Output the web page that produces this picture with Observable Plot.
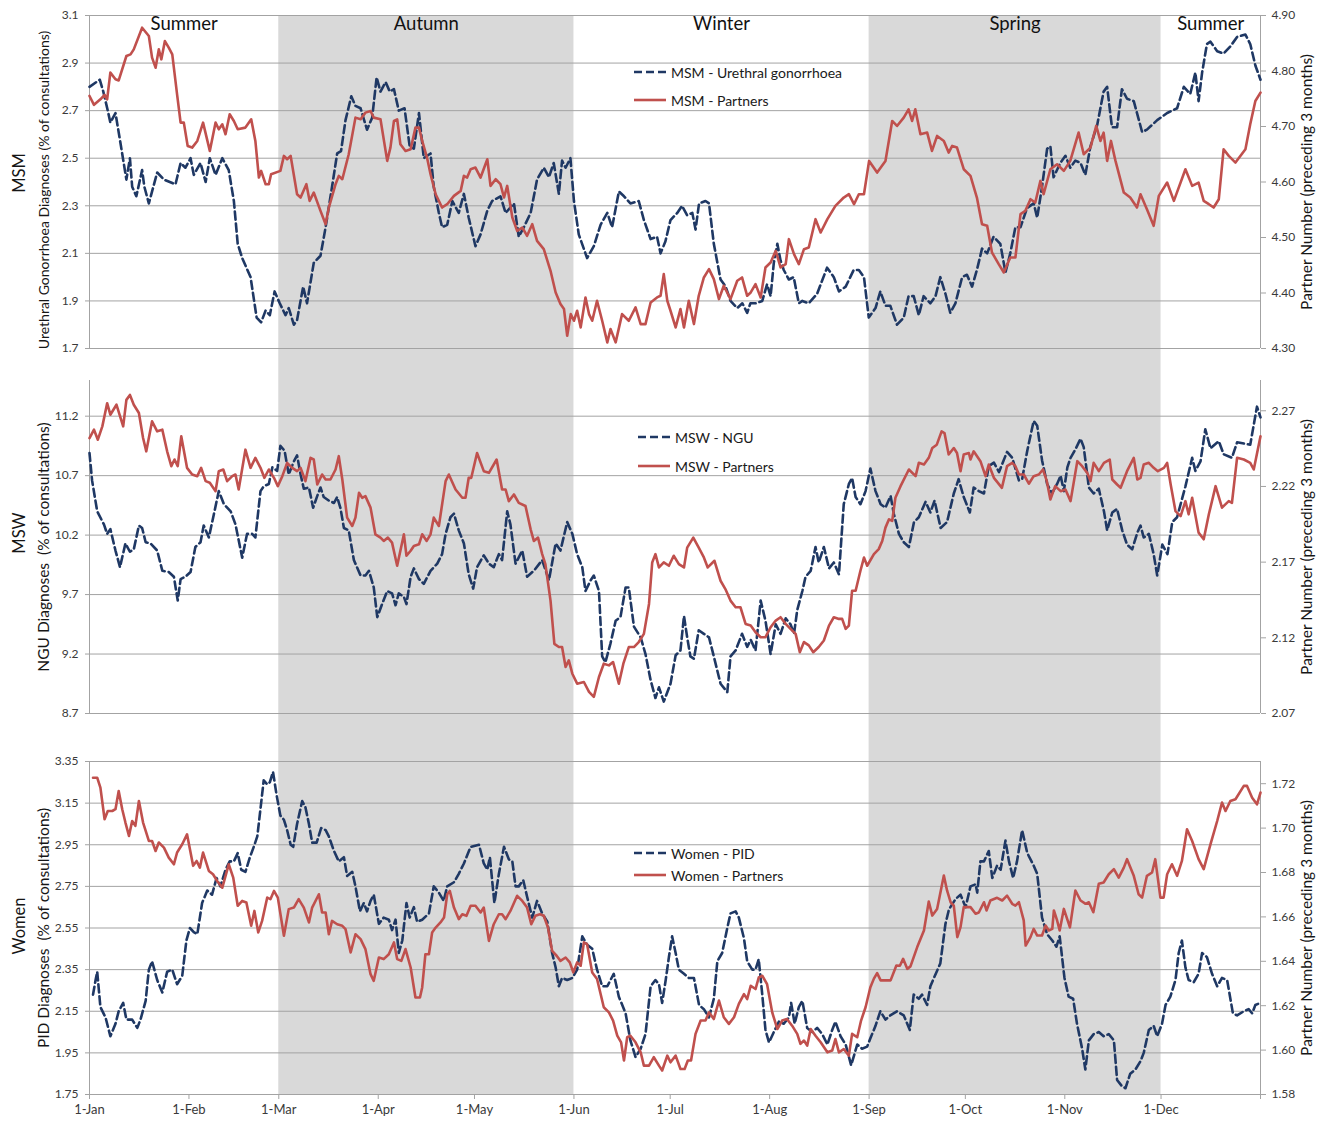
<!DOCTYPE html>
<html><head><meta charset="utf-8">
<script src="https://cdn.jsdelivr.net/npm/d3@7"></script>
<script src="https://cdn.jsdelivr.net/npm/@observablehq/plot@0.6"></script>
<style>
html,body{margin:0;padding:0;background:#fff;overflow:hidden;}
#chart{position:relative;width:1325px;height:1123px;font-family:Lato,sans-serif;}
#chart > svg{position:absolute;left:0;}
.lg{position:absolute;display:flex;align-items:center;font:14px Lato,sans-serif;color:#1a1a1a;white-space:nowrap;}
.lg svg{display:block;margin-right:4px;}
</style></head><body><div id="chart"></div><script>
// ---- data (day of year offset from 1-Jan, value) ----
const monthLabels = ["1-Jan","1-Feb","1-Mar","1-Apr","1-May","1-Jun","1-Jul","1-Aug","1-Sep","1-Oct","1-Nov","1-Dec"];
const seasonNames = ["Summer","Autumn","Winter","Spring","Summer"];
const seasonStart = [0,59,151,243,334];
const seasonEnd = [59,151,243,334,365];
const shadeStart = [59,243];
const shadeEnd = [151,334];

const msmTicksL = [1.7,1.9,2.1,2.3,2.5,2.7,2.9,3.1];
const msmTicksR = [4.3,4.4,4.5,4.6,4.7,4.8,4.9];
const mswTicksL = [8.7,9.2,9.7,10.2,10.7,11.2];
const mswTicksR = [2.07,2.12,2.17,2.22,2.27];
const womTicksL = [1.75,1.95,2.15,2.35,2.55,2.75,2.95,3.15,3.35];
const womTicksR = [1.58,1.60,1.62,1.64,1.66,1.68,1.70,1.72];

const msmGono = [[0,2.80],[3.2,2.83],[4.3,2.78],[5.7,2.70],[6.5,2.65],[8.1,2.69],[9.7,2.56],[11.5,2.41],[12.6,2.50],[13.3,2.38],[14.6,2.34],[16.4,2.45],[17.1,2.38],[18.5,2.31],[21.1,2.44],[23.2,2.41],[26.8,2.39],[28.4,2.48],[29.9,2.46],[31.5,2.50],[32.5,2.43],[34.6,2.48],[36.2,2.40],[37.5,2.50],[39.3,2.43],[41.4,2.50],[43.4,2.45],[45,2.32],[46.2,2.14],[47.6,2.08],[50.2,2.00],[52.1,1.83],[53.5,1.81],[54.9,1.86],[56.2,1.84],[57.7,1.94],[59.3,1.89],[61.1,1.84],[62.1,1.87],[63.7,1.80],[64.7,1.82],[66.6,1.96],[67.8,1.89],[69.9,2.06],[72,2.09],[73.6,2.21],[75.6,2.38],[77.2,2.52],[78.4,2.53],[79.8,2.66],[81.6,2.76],[82.9,2.72],[84.5,2.71],[86.5,2.62],[88.1,2.67],[89.5,2.84],[90.7,2.78],[92.3,2.82],[93.6,2.78],[94.9,2.79],[96.4,2.70],[98.2,2.71],[99.8,2.55],[101.1,2.54],[102.7,2.69],[104.2,2.50],[106.3,2.52],[107.3,2.38],[108.9,2.27],[109.9,2.21],[111.5,2.22],[113.1,2.32],[115.1,2.27],[116.7,2.35],[118.2,2.25],[120.3,2.13],[121.9,2.18],[124,2.28],[125.5,2.32],[128.1,2.34],[129.7,2.27],[132.3,2.31],[133.8,2.17],[135.4,2.21],[137.5,2.27],[139.5,2.41],[141.6,2.46],[143.2,2.42],[144.7,2.48],[146.3,2.35],[147.3,2.49],[148.4,2.46],[149.9,2.50],[151,2.32],[152.5,2.18],[155.1,2.08],[157.2,2.13],[159.3,2.22],[161.4,2.27],[162.9,2.21],[165,2.36],[166.6,2.34],[168.6,2.31],[171.2,2.32],[172.8,2.24],[174.9,2.16],[176.9,2.17],[178,2.10],[179.5,2.15],[181.1,2.24],[183.2,2.27],[184.7,2.30],[186.3,2.26],[187.9,2.27],[188.9,2.20],[190,2.31],[192,2.32],[193.1,2.31],[194.6,2.14],[196.7,1.99],[198.3,1.96],[199.8,1.90],[201.9,1.87],[203.5,1.89],[205,1.85],[206,1.89],[207.6,1.89],[209.7,1.90],[211.2,1.97],[212.3,1.92],[213.3,2.06],[214.4,2.14],[215.4,2.07],[216.4,2.03],[218,1.99],[219.5,2.00],[221.1,1.89],[222.2,1.90],[224.2,1.89],[226.8,1.93],[229.9,2.04],[232,2.00],[233.6,1.94],[235.7,1.96],[238.2,2.03],[239.8,2.03],[241.4,2.00],[242.9,1.83],[245,1.87],[246.5,1.94],[248.1,1.88],[249.6,1.88],[251.7,1.80],[253.8,1.83],[255.3,1.92],[256.9,1.92],[258.5,1.84],[260,1.92],[262.1,1.89],[263.7,1.92],[265.2,2.00],[266.8,1.93],[268.3,1.85],[269.9,1.89],[272,2.00],[273.5,2.01],[275.1,1.96],[276.6,2.03],[278.2,2.12],[279.8,2.10],[281.8,2.17],[283.9,2.14],[285.5,2.02],[287,2.10],[288.6,2.21],[290.2,2.21],[292.2,2.29],[294.3,2.31],[295.4,2.25],[296.9,2.38],[298.5,2.54],[299.5,2.55],[300.5,2.42],[302.6,2.48],[304.2,2.51],[305.7,2.46],[307.3,2.49],[308.9,2.48],[310.4,2.43],[312,2.55],[314.1,2.64],[316.1,2.78],[317.2,2.80],[318.7,2.63],[320.3,2.63],[321.8,2.79],[323.4,2.75],[325.5,2.74],[328.1,2.61],[329.6,2.62],[332.8,2.66],[335.9,2.69],[339,2.71],[341.1,2.80],[343.1,2.77],[344.7,2.86],[345.7,2.74],[346.8,2.86],[348.3,2.98],[349.4,2.99],[351.5,2.95],[353.5,2.94],[355.6,2.97],[357.7,3.01],[360.3,3.02],[361.8,2.98],[363.4,2.89],[365,2.83]];

const msmPartners = [[0,4.755],[1.4,4.739],[3.4,4.749],[4.7,4.757],[5.5,4.749],[6.5,4.797],[8.1,4.785],[9.1,4.783],[11.5,4.827],[12.8,4.83],[13.8,4.839],[16.4,4.878],[18.5,4.863],[19.5,4.824],[20.6,4.806],[21.6,4.839],[22.4,4.821],[23.5,4.854],[24.7,4.842],[25.8,4.83],[27.3,4.758],[28.4,4.707],[29.4,4.707],[30.6,4.665],[32,4.662],[33.6,4.674],[35.4,4.707],[37.5,4.656],[39.3,4.707],[40.3,4.695],[41.4,4.704],[42.4,4.686],[43.7,4.722],[45,4.71],[46.2,4.695],[48.6,4.698],[50.4,4.713],[51.7,4.674],[52.8,4.608],[53.5,4.62],[54.9,4.596],[55.9,4.596],[56.6,4.614],[59.5,4.62],[60.6,4.647],[61.6,4.641],[62.7,4.647],[64.7,4.578],[65.8,4.572],[67.6,4.596],[68.6,4.566],[69.9,4.581],[72,4.548],[73.6,4.524],[74.6,4.554],[76.7,4.596],[77.7,4.611],[78.8,4.605],[80.8,4.65],[82.9,4.716],[84.5,4.713],[86,4.725],[87.6,4.728],[88.6,4.716],[90.7,4.713],[92.8,4.638],[93.8,4.662],[94.9,4.71],[95.9,4.713],[96.9,4.668],[98.5,4.656],[100.1,4.659],[101.6,4.698],[102.7,4.698],[103.7,4.674],[105.2,4.644],[106.3,4.614],[107.9,4.578],[109.9,4.554],[111.5,4.56],[113.6,4.575],[115.7,4.584],[116.7,4.611],[117.7,4.608],[118.8,4.623],[120.3,4.626],[121.9,4.608],[124,4.641],[125,4.593],[126.6,4.605],[128.1,4.596],[129.2,4.572],[130.2,4.593],[131.8,4.536],[133.3,4.512],[134.9,4.518],[136.4,4.503],[138,4.524],[139.5,4.494],[141.6,4.479],[143.7,4.44],[145.3,4.401],[146.8,4.38],[147.9,4.371],[148.9,4.323],[150,4.362],[151,4.35],[152,4.368],[153.1,4.338],[154.6,4.392],[155.7,4.362],[156.7,4.35],[158.2,4.386],[159.8,4.35],[161.4,4.311],[162.4,4.335],[164,4.311],[166,4.362],[168.1,4.35],[170.2,4.374],[171.8,4.344],[173.3,4.344],[174.9,4.383],[176.9,4.392],[178,4.395],[179,4.434],[180.1,4.386],[181.1,4.368],[182.7,4.338],[184.2,4.371],[185.3,4.338],[186.8,4.386],[188.4,4.344],[189.9,4.395],[191.5,4.428],[193.1,4.443],[194.6,4.425],[196.2,4.389],[197.7,4.413],[199.8,4.389],[201.9,4.422],[203.4,4.428],[205,4.395],[206.1,4.401],[207.6,4.416],[209.2,4.392],[210.7,4.446],[212.3,4.455],[213.9,4.476],[215.4,4.446],[217,4.452],[218,4.497],[219.6,4.47],[221.1,4.452],[222.7,4.479],[224.2,4.482],[226.3,4.533],[227.9,4.509],[230,4.533],[232.5,4.557],[235.1,4.572],[236.7,4.578],[238.3,4.56],[239.8,4.578],[241.4,4.578],[243,4.638],[245.5,4.617],[248.1,4.638],[250.2,4.71],[251.7,4.701],[253.8,4.716],[255.3,4.731],[256.4,4.71],[257.4,4.731],[259,4.686],[261.1,4.689],[262.6,4.656],[264.2,4.683],[266.3,4.674],[267.8,4.653],[268.9,4.665],[270.4,4.662],[272.5,4.623],[274.6,4.611],[276.6,4.572],[278.2,4.524],[279.8,4.521],[281.3,4.473],[283.4,4.452],[285,4.437],[287,4.464],[288.6,4.464],[290.2,4.542],[291.7,4.548],[293.3,4.569],[294.8,4.563],[296.4,4.602],[297.4,4.578],[299.5,4.623],[301.6,4.632],[303.7,4.62],[305.7,4.638],[308.3,4.689],[309.9,4.65],[312,4.662],[313.8,4.701],[315.1,4.674],[316.1,4.689],[317.2,4.638],[318.4,4.674],[319.8,4.638],[322.4,4.581],[324.4,4.572],[326.5,4.554],[327.6,4.578],[329.6,4.551],[331.7,4.521],[333.3,4.575],[335.9,4.599],[338,4.566],[341.6,4.623],[343.7,4.593],[345.7,4.599],[347.3,4.566],[348.9,4.56],[350.4,4.554],[352,4.569],[353.5,4.659],[355.1,4.647],[357.2,4.635],[360.3,4.659],[361.8,4.704],[363.4,4.746],[365,4.761]];

const mswNgu = [[0,10.89],[0.8,10.66],[2.4,10.40],[4.5,10.29],[5.5,10.21],[6.5,10.25],[8.1,10.07],[9.5,9.93],[11.2,10.13],[12.6,10.06],[13.8,10.08],[15.4,10.28],[16.4,10.26],[17.5,10.14],[19,10.13],[21.1,10.07],[22.7,9.90],[24.7,9.89],[26.3,9.85],[27.5,9.65],[28.4,9.83],[29.9,9.85],[31.5,9.89],[33,10.10],[34.6,10.14],[35.6,10.28],[37.2,10.18],[38.8,10.38],[40.3,10.57],[41.9,10.46],[44,10.40],[45.5,10.29],[47.6,10.01],[49.1,10.21],[50.7,10.21],[51.7,10.18],[53.3,10.57],[54.3,10.61],[55.9,10.63],[57,10.77],[58.5,10.74],[59.5,10.95],[60.8,10.91],[62.1,10.71],[63.7,10.82],[64.7,10.87],[65.8,10.71],[66.8,10.59],[68.4,10.60],[69.7,10.43],[71,10.53],[72,10.60],[73,10.52],[74.6,10.49],[76.2,10.47],[77.2,10.52],[78.2,10.43],[79.3,10.26],[80.8,10.24],[82.4,9.99],[84.5,9.86],[86,9.86],[87.1,9.90],[88.6,9.76],[89.7,9.51],[91.2,9.62],[92.8,9.73],[94.3,9.71],[95.4,9.61],[96.4,9.71],[98,9.68],[98.8,9.62],[100.1,9.85],[101.1,9.92],[102.7,9.83],[104.2,9.79],[106.3,9.90],[108.4,9.96],[109.9,10.04],[111,10.21],[112.5,10.35],[113.6,10.38],[115.1,10.24],[116.7,10.13],[118.2,9.87],[119.6,9.75],[120.8,9.93],[122.9,10.03],[124.5,9.96],[126,9.93],[127.6,10.04],[128.6,9.99],[130.2,10.40],[131.2,10.29],[132.8,9.96],[134.9,10.07],[136.4,9.85],[138.5,9.90],[141.1,9.99],[143.2,9.82],[145.3,10.13],[146.8,10.07],[148.9,10.31],[150.5,10.21],[152,10.04],[153.6,9.93],[154.6,9.73],[156.2,9.82],[157.2,9.86],[158.8,9.73],[159.8,9.18],[160.8,9.13],[162.4,9.29],[164,9.48],[165.5,9.51],[167.1,9.76],[168.1,9.76],[169.7,9.43],[171.8,9.34],[173.3,9.20],[174.9,8.98],[176.4,8.83],[177.5,8.92],[179,8.80],[181.1,8.95],[182.7,9.19],[184.2,9.23],[185.3,9.52],[186.3,9.34],[187.3,9.18],[188.4,9.16],[189.9,9.40],[191.5,9.37],[193.1,9.34],[194.6,9.18],[196.7,8.95],[198.8,8.88],[199.8,9.18],[201.4,9.23],[203.4,9.37],[205,9.26],[206.1,9.32],[207.6,9.23],[209.2,9.65],[210.7,9.48],[212.3,9.20],[213.9,9.45],[215.4,9.37],[217,9.50],[218.5,9.45],[219.6,9.37],[220.6,9.57],[222.2,9.73],[223.2,9.85],[224.8,9.90],[226.3,10.10],[227.3,9.97],[228.9,10.10],[230.5,9.92],[232,9.97],[233.6,9.87],[235.1,10.46],[236.7,10.63],[237.7,10.68],[238.8,10.52],[240.3,10.46],[241.9,10.57],[243.4,10.76],[245,10.57],[246.6,10.46],[248.1,10.43],[249.7,10.53],[250.7,10.38],[252.3,10.21],[253.8,10.14],[255.4,10.10],[257,10.31],[258.5,10.35],[260.6,10.48],[262.1,10.39],[263.4,10.49],[265.3,10.26],[267.3,10.31],[269.4,10.55],[270.9,10.67],[272.5,10.52],[274.4,10.39],[275.6,10.60],[277.2,10.57],[278.8,10.55],[280.3,10.78],[281.9,10.81],[283.5,10.73],[286,10.90],[287.6,10.85],[289.7,10.66],[290.7,10.67],[292.3,10.91],[294.3,11.16],[295.4,11.12],[296.9,10.83],[298.5,10.63],[300,10.55],[301.6,10.63],[302.7,10.70],[303.7,10.57],[304.8,10.77],[305.8,10.85],[307.3,10.92],[308.9,11.01],[309.9,10.94],[311.5,10.60],[313,10.55],[314.6,10.59],[316.2,10.40],[317.2,10.24],[318.8,10.39],[320.3,10.42],[321.9,10.24],[323.4,10.12],[325,10.08],[326.6,10.22],[327.6,10.28],[328.6,10.18],[330.2,10.21],[331.7,10.04],[332.8,9.86],[334.4,10.12],[336,10.04],[337.5,10.31],[339,10.35],[341.6,10.61],[343.7,10.85],[344.7,10.74],[346.3,10.82],[347.8,11.09],[349.4,10.93],[352,10.99],[353.5,10.88],[356.1,10.85],[357.7,10.98],[361.8,10.96],[363.9,11.28],[365,11.19]];

const mswPartners = [[0,2.252],[1.4,2.2575],[2.6,2.2509],[4,2.2597],[5.5,2.275],[6.5,2.2674],[8.4,2.274],[10.5,2.2597],[11.5,2.2772],[12.6,2.2805],[13.8,2.274],[15.4,2.2685],[16.7,2.252],[17.7,2.2432],[19.5,2.263],[21.1,2.2564],[22.7,2.2575],[24.2,2.2432],[25.5,2.2334],[26.5,2.2378],[27.5,2.2334],[28.6,2.2531],[30.4,2.2323],[32,2.2279],[33.6,2.2268],[34.8,2.2323],[36.2,2.2235],[37.5,2.2224],[39.3,2.2169],[40.3,2.2301],[41.7,2.2312],[42.9,2.2235],[44.5,2.2268],[45.5,2.2279],[46.5,2.218],[48.6,2.2443],[50.2,2.2323],[51.7,2.2389],[53.3,2.2323],[54.5,2.2257],[55.9,2.2312],[57.5,2.2257],[58.7,2.2202],[60.1,2.2268],[61.6,2.2356],[63.2,2.2323],[64.7,2.2301],[65.8,2.2323],[67.3,2.2235],[68.9,2.2389],[69.9,2.2378],[71,2.2213],[72.5,2.2279],[73.6,2.2246],[75.1,2.2246],[76.7,2.2312],[77.7,2.24],[78.8,2.2246],[80.3,2.1994],[81.9,2.1939],[82.9,2.1994],[84,2.2158],[85,2.2125],[86,2.2136],[87.6,2.206],[89.1,2.1884],[90.7,2.1862],[91.7,2.184],[93,2.1862],[94.3,2.1829],[95.9,2.1676],[96.9,2.1775],[98,2.1884],[98.8,2.1742],[100.1,2.1775],[101.1,2.1807],[102.7,2.1818],[103.7,2.1884],[105.1,2.184],[106.3,2.1884],[107.3,2.1994],[108.9,2.1939],[111,2.2235],[112,2.2279],[114.1,2.218],[116.2,2.2125],[117.2,2.2125],[118.2,2.2257],[119,2.2257],[120.8,2.2421],[122.9,2.2301],[124.5,2.229],[126.9,2.2378],[128.6,2.218],[129.7,2.218],[130.7,2.2103],[132.3,2.2147],[133.8,2.2092],[135.9,2.2071],[137.5,2.1917],[138.5,2.184],[139.8,2.1862],[141.1,2.1753],[142.1,2.1687],[143.7,2.1446],[144.9,2.116],[146.3,2.1139],[147.3,2.1139],[148.4,2.1007],[149.4,2.1051],[150.5,2.0963],[152,2.0897],[154.1,2.0908],[155.7,2.0843],[157.2,2.081],[158.8,2.0941],[160.3,2.1029],[161.9,2.1018],[163.2,2.104],[165,2.0897],[166.4,2.1029],[168.1,2.1139],[169.7,2.1139],[171.2,2.1172],[172.8,2.1226],[174.4,2.1424],[175.4,2.1698],[176.4,2.1753],[177.5,2.1665],[179,2.1698],[180.6,2.1676],[182.1,2.1742],[183.7,2.1687],[185.3,2.1665],[186.3,2.1796],[188.2,2.1862],[189.9,2.1796],[191.5,2.1731],[192.7,2.1665],[194.8,2.1709],[196.7,2.1577],[198.2,2.1522],[199.8,2.1446],[201.4,2.1402],[202.9,2.1402],[204.5,2.1292],[206.1,2.1281],[207.6,2.1237],[209.2,2.1204],[210.7,2.1204],[212.3,2.127],[213.9,2.1314],[215.4,2.1336],[217,2.1292],[218.5,2.1259],[220.1,2.1226],[221.4,2.1105],[222.7,2.1172],[224.2,2.115],[225.6,2.1105],[227.3,2.1139],[228.9,2.1182],[230.5,2.1281],[232,2.1336],[233.6,2.1325],[234.6,2.1325],[235.7,2.1259],[236.7,2.1281],[237.7,2.1511],[238.8,2.1511],[240.3,2.1643],[241.4,2.173],[242.4,2.1676],[244.5,2.1753],[246,2.1786],[247.1,2.184],[248.1,2.1928],[249.2,2.1983],[250.2,2.1972],[251.2,2.2125],[252.8,2.2202],[255.4,2.2312],[257.5,2.2268],[258.5,2.2356],[260.1,2.2345],[261.6,2.2389],[262.7,2.2454],[264.1,2.2476],[265.6,2.2564],[266.5,2.2553],[267.8,2.2411],[269.4,2.2454],[270.4,2.2421],[271.5,2.2301],[272.5,2.2411],[274.1,2.2421],[274.6,2.2378],[275.6,2.2432],[277.7,2.2367],[279.3,2.2268],[280.3,2.2345],[281.9,2.2257],[284.4,2.2191],[286,2.2334],[287.6,2.2356],[288.6,2.2334],[289.7,2.2279],[291.2,2.2279],[292.8,2.2218],[294.3,2.2268],[295.9,2.2279],[297.2,2.2312],[298.4,2.2235],[299.5,2.2114],[301,2.2202],[302.7,2.2169],[304.2,2.218],[305.8,2.2103],[307.9,2.2367],[309.4,2.2334],[311,2.229],[312,2.2235],[313,2.2356],[314.6,2.2301],[316.2,2.2356],[318,2.2378],[318.8,2.2246],[320.3,2.2213],[321.4,2.2191],[323.4,2.2301],[325.5,2.2389],[326.6,2.2246],[327.6,2.2257],[328.6,2.2345],[330.2,2.2356],[331.7,2.2323],[333,2.2301],[334.9,2.2323],[335.9,2.2356],[337,2.2213],[338.5,2.2037],[340.1,2.2004],[341.6,2.2103],[342.6,2.2016],[343.7,2.2125],[345.7,2.1895],[347.3,2.1851],[348.9,2.2016],[351,2.2202],[353,2.206],[355.1,2.2103],[356.1,2.2092],[357.7,2.2389],[359.8,2.2378],[361.8,2.2356],[362.9,2.2312],[365,2.2531]];

const womenPid = [[1.1,2.23],[1.9,2.30],[2.4,2.34],[3.4,2.17],[5,2.12],[6.5,2.03],[8.1,2.09],[9.1,2.15],[10.5,2.19],[11.5,2.11],[13.3,2.11],[14.9,2.07],[15.9,2.11],[17.5,2.20],[18.5,2.35],[19.5,2.39],[21.1,2.30],[22.7,2.24],[24.2,2.34],[25.8,2.35],[27.3,2.28],[28.9,2.32],[30.2,2.49],[31.3,2.55],[32.5,2.53],[33.6,2.52],[35.1,2.67],[36.7,2.73],[38.2,2.71],[39.6,2.79],[40.8,2.75],[42.4,2.83],[43.7,2.87],[45,2.87],[46.2,2.91],[47.3,2.83],[48.6,2.82],[50,2.89],[51.2,2.94],[52.3,2.99],[53.5,3.15],[54.3,3.26],[55.4,3.24],[56.2,3.25],[57.2,3.30],[58.3,3.19],[59.5,3.09],[60.6,3.07],[61.6,3.02],[62.7,2.95],[63.5,2.94],[64.7,3.05],[66.3,3.16],[67.3,3.13],[68.4,3.05],[69.4,2.96],[70.8,2.96],[72.2,3.03],[73.6,3.02],[74.6,2.99],[76.2,2.92],[77.7,2.87],[79.3,2.89],[80.3,2.80],[81.9,2.82],[82.9,2.75],[84.3,2.63],[85.5,2.67],[86.5,2.63],[87.6,2.68],[88.6,2.71],[90.2,2.57],[91.7,2.60],[93.3,2.59],[94.3,2.54],[95.4,2.59],[96.4,2.43],[97.5,2.49],[98.8,2.67],[99.8,2.60],[101.1,2.65],[102.1,2.58],[103.7,2.59],[105.8,2.62],[107.3,2.75],[108.9,2.72],[110.4,2.68],[111.5,2.75],[113.6,2.77],[115.1,2.81],[116.7,2.86],[118.8,2.94],[121.4,2.95],[122.9,2.86],[124,2.83],[124.8,2.89],[126.2,2.67],[127.6,2.81],[129.2,2.94],[130.7,2.88],[131.8,2.87],[132.8,2.75],[133.8,2.75],[135.2,2.78],[136.4,2.70],[138,2.60],[139.5,2.68],[141.1,2.62],[142.7,2.58],[144.2,2.43],[145.3,2.36],[146.3,2.27],[147.3,2.31],[148.9,2.30],[150.5,2.31],[152,2.35],[153.6,2.51],[155.1,2.47],[156.7,2.45],[158.2,2.35],[159.8,2.27],[161.4,2.27],[163.4,2.33],[165,2.22],[167.1,2.14],[168.6,2.01],[170.2,1.93],[171.8,1.97],[173.3,2.04],[174.9,2.27],[176.4,2.30],[177.5,2.28],[178.5,2.19],[179.6,2.30],[180.6,2.41],[181.6,2.51],[182.7,2.43],[183.7,2.35],[185.3,2.33],[186.8,2.31],[188.4,2.31],[190,2.18],[191.5,2.16],[193.1,2.12],[194.6,2.21],[195.7,2.39],[197.2,2.43],[198.8,2.55],[199.8,2.62],[201.4,2.63],[202.4,2.60],[204,2.50],[205,2.39],[206.6,2.35],[207.6,2.35],[208.6,2.40],[209.7,2.23],[210.7,2.06],[211.8,2.00],[213.3,2.05],[214.9,2.10],[216.4,2.09],[218,2.12],[218.7,2.19],[219.8,2.09],[221.1,2.17],[222.2,2.20],[223.7,2.07],[225.3,2.05],[226.8,2.07],[228.4,2.04],[230,1.99],[231.5,2.06],[232.5,2.10],[234.1,2.03],[235.7,1.99],[237.4,1.89],[239.3,1.99],[240.8,1.97],[242.4,1.98],[243.4,2.02],[245,2.08],[246.5,2.15],[248.1,2.11],[249.6,2.13],[251.7,2.15],[253.8,2.13],[255.7,2.06],[256.9,2.23],[258.5,2.21],[259.5,2.23],[261.1,2.18],[262.1,2.27],[263.2,2.31],[265.2,2.38],[266.8,2.57],[267.9,2.64],[270,2.69],[271.5,2.71],[273.1,2.65],[274.6,2.75],[276.2,2.76],[276.7,2.72],[277.7,2.87],[278.8,2.87],[280.3,2.92],[281.4,2.79],[282.9,2.85],[284,2.83],[285.5,2.97],[286.6,2.87],[287.9,2.79],[289.1,2.87],[290.7,3.02],[292.3,2.91],[294.3,2.85],[295.4,2.81],[296.9,2.60],[298.5,2.52],[300.1,2.49],[301.4,2.46],[302.4,2.51],[303.9,2.31],[305.2,2.22],[306.6,2.21],[307.8,2.09],[309.4,1.97],[310.4,1.87],[311.5,2.01],[313,2.04],[314.6,2.05],[316.1,2.03],[317.7,2.04],[319.3,2.01],[320.3,1.82],[321.8,1.79],[322.9,1.78],[324.4,1.85],[326,1.87],[327.6,1.91],[328.6,1.95],[330.2,2.06],[331.7,2.08],[332.8,2.03],[334.3,2.09],[335.4,2.18],[336.9,2.22],[338.5,2.30],[339.5,2.43],[340.5,2.49],[341.6,2.36],[342.6,2.30],[344.2,2.29],[345.7,2.33],[346.8,2.43],[348.3,2.41],[349.9,2.33],[351.5,2.27],[353,2.31],[354.6,2.30],[356.4,2.14],[357.7,2.13],[359.8,2.15],[361.3,2.16],[362.4,2.14],[363.4,2.18],[365,2.19]];

const womenPartners = [[1.1,1.7227],[2.4,1.7227],[3.4,1.7182],[4.7,1.704],[5.7,1.7077],[7.1,1.7077],[8.1,1.7085],[9.1,1.7167],[10.2,1.7085],[11.2,1.7025],[12.3,1.6965],[13.3,1.7032],[14.3,1.701],[15.4,1.7122],[16.7,1.7025],[18.5,1.6942],[19.5,1.6942],[20.6,1.6897],[21.6,1.6935],[23.2,1.6912],[24.7,1.6867],[26.3,1.6837],[27.3,1.689],[28.9,1.6927],[30.4,1.6972],[32.3,1.683],[33.4,1.6852],[34.4,1.6822],[35.4,1.689],[37.2,1.6807],[38.5,1.6792],[39.8,1.6762],[41.4,1.6732],[43.4,1.6837],[44.8,1.6777],[46.2,1.665],[47.6,1.6672],[48.9,1.6665],[50.4,1.656],[51.4,1.6627],[52.6,1.653],[53.8,1.6582],[55.4,1.6687],[56.4,1.668],[57.5,1.6717],[58.7,1.6687],[60.6,1.6515],[62.1,1.6635],[63.7,1.6642],[65.2,1.668],[66.8,1.6642],[68.4,1.6575],[69.4,1.6642],[71.5,1.6702],[72.5,1.662],[73.6,1.662],[74.6,1.6522],[75.6,1.6582],[77.2,1.6567],[78.8,1.656],[79.8,1.6545],[81.4,1.644],[82.9,1.6522],[84.5,1.65],[86,1.6455],[87.6,1.6342],[88.6,1.6312],[90.2,1.6417],[91.7,1.641],[93.3,1.6432],[94.9,1.6485],[95.9,1.641],[97.2,1.6402],[98.5,1.6455],[100.1,1.6372],[101.6,1.6237],[103,1.6237],[103.7,1.6282],[104.7,1.6432],[105.8,1.6432],[106.8,1.653],[107.9,1.6552],[109.4,1.6575],[110.5,1.6597],[111.5,1.6702],[112.3,1.6717],[113.6,1.6642],[115.1,1.659],[116.2,1.6612],[117.5,1.6605],[118.8,1.665],[120.3,1.665],[121.9,1.662],[122.9,1.6642],[124.5,1.6492],[126,1.6567],[127.6,1.6612],[128.6,1.6612],[129.7,1.659],[131.2,1.6627],[133.3,1.6695],[134.9,1.6672],[136.4,1.6642],[137.7,1.6567],[139,1.6605],[140.4,1.6612],[141.6,1.6605],[142.9,1.6552],[144.2,1.6447],[145.6,1.6425],[146.8,1.6402],[148.4,1.6417],[149.7,1.6395],[150.8,1.635],[152,1.6395],[153.1,1.638],[154.1,1.6485],[155.1,1.6477],[156.7,1.635],[158.2,1.632],[160.3,1.6193],[161.9,1.617],[163.2,1.6133],[164.5,1.6065],[165.7,1.6035],[166.6,1.5953],[167.6,1.6058],[168.6,1.6065],[170.2,1.6035],[171.8,1.599],[172.8,1.593],[174.4,1.593],[175.9,1.5968],[177.5,1.593],[178.5,1.5908],[180.1,1.5975],[181.1,1.5945],[182.7,1.5975],[184.2,1.5915],[185.5,1.5915],[186.5,1.5953],[187.5,1.5953],[188.9,1.6073],[190.5,1.6133],[192,1.6133],[193.1,1.617],[194.6,1.614],[196.2,1.6223],[197.7,1.6148],[199.3,1.6118],[200.9,1.6148],[202.4,1.6208],[204,1.6252],[205,1.623],[206.1,1.629],[207.6,1.6275],[208.6,1.6327],[209.7,1.6335],[211.2,1.6297],[212.8,1.617],[214.4,1.6095],[215.9,1.6133],[217.4,1.614],[219,1.611],[220.6,1.6073],[221.6,1.6028],[222.7,1.6043],[223.7,1.602],[224.8,1.6095],[226.3,1.6065],[227.9,1.6035],[230,1.599],[231.5,1.5998],[232.5,1.605],[233.6,1.599],[235.1,1.6005],[236.7,1.5975],[237.7,1.6073],[239.3,1.6058],[240.5,1.6133],[241.9,1.6193],[243.4,1.6283],[244.5,1.6322],[245.5,1.6347],[246.6,1.6314],[249.7,1.6314],[251.5,1.6381],[252.6,1.638],[253.6,1.6411],[254.9,1.6366],[255.9,1.6377],[258,1.6464],[260.1,1.6539],[261.6,1.6669],[262.7,1.6606],[264.2,1.6636],[266.3,1.6786],[267.3,1.6719],[268.4,1.6666],[269.4,1.6651],[270.5,1.6509],[271.5,1.6554],[272.5,1.6644],[274.6,1.6644],[276.2,1.6614],[277.2,1.662],[278.8,1.6666],[279.6,1.6629],[280.8,1.6674],[282.9,1.6686],[284.5,1.6674],[286,1.6696],[287.6,1.6659],[288.6,1.6651],[289.7,1.6666],[291.2,1.6584],[291.8,1.6471],[293.3,1.6509],[294.3,1.6546],[295.4,1.6516],[296.9,1.6516],[298,1.6561],[299,1.6539],[300.1,1.6546],[300.6,1.6629],[301.6,1.6584],[302.4,1.6539],[303.7,1.6636],[305.6,1.6553],[307.3,1.6719],[308.9,1.6674],[310.5,1.6659],[311.5,1.6666],[312.9,1.6621],[314.6,1.6749],[316.1,1.6755],[317.7,1.6792],[319.3,1.6815],[320.8,1.6777],[322.4,1.6822],[323.4,1.686],[325.5,1.6785],[327,1.6702],[328.1,1.6687],[329.6,1.6785],[331.2,1.68],[332.2,1.686],[333.8,1.6687],[334.8,1.6687],[335.9,1.6792],[337.4,1.6837],[339,1.6785],[340.5,1.6852],[342.1,1.6995],[343.7,1.6942],[345.7,1.686],[347.3,1.6815],[349.4,1.6927],[351.5,1.7032],[353,1.7115],[354.1,1.7077],[355.6,1.7122],[357.2,1.713],[359.8,1.719],[360.8,1.719],[362.4,1.7137],[363.9,1.7107],[365,1.716]];

// ---- rendering ----
const T0 = Date.UTC(2013, 0, 1);
const toDate = d => new Date(T0 + d * 864e5);
const xDomain = [toDate(0), toDate(365)];
const monthTicks = d3.range(13).map(m => new Date(Date.UTC(2013, m, 1)));
const SHADE = "#d9d9d9", GRID = "#a3a3a3", BLUE = "#1f3864", RED = "#c0504d", TXT = "#3a3a3a", TITLE = "#161616";
const W = 1325, ML = 89, MR = 65;
const svgStyle = {background: "transparent", overflow: "visible", fontFamily: "Lato, sans-serif"};
const chart = document.getElementById("chart");

const bg = Plot.plot({
  width: W, height: 1123, marginLeft: ML, marginRight: MR, marginTop: 15, marginBottom: 29,
  x: {type: "utc", domain: xDomain, axis: null},
  style: svgStyle,
  marks: [Plot.rect(d3.range(shadeStart.length), {x1: i => toDate(shadeStart[i]), x2: i => toDate(shadeEnd[i]), fill: SHADE})]
});
bg.style.top = "0px";
chart.appendChild(bg);

function panel(c) {
  const [lo, hi] = c.left, [rlo, rhi] = c.right;
  const toL = r => lo + (r - rlo) / (rhi - rlo) * (hi - lo);
  const fromL = v => rlo + (v - lo) / (hi - lo) * (rhi - rlo);
  const marks = [
    Plot.gridY({ticks: c.ticksL, stroke: GRID, strokeOpacity: 1, strokeWidth: 1}),
    Plot.ruleX(xDomain, {stroke: GRID, strokeWidth: 1}),
    Plot.axisY({ticks: c.ticksL, tickFormat: d => d.toFixed(c.digitsL), tickSize: 4, tickPadding: 7, stroke: GRID, fill: TXT, fontSize: 12, label: null}),
    Plot.axisY({anchor: "right", ticks: c.ticksR.map(toL), tickFormat: v => fromL(v).toFixed(2), tickSize: 5, tickPadding: 6, stroke: GRID, fill: TXT, fontSize: 12, label: null}),
    Plot.line(c.diag, {x: d => toDate(d[0]), y: d => d[1], stroke: BLUE, strokeWidth: 2.6, strokeDasharray: "8,4"}),
    Plot.line(c.part, {x: d => toDate(d[0]), y: d => toL(d[1]), stroke: RED, strokeWidth: 2.6}),
    Plot.text([c.group], {text: d => d, frameAnchor: "left", textAnchor: "middle", lineAnchor: "middle", dx: -70, dy: c.groupDy, rotate: -90, fontSize: 16.5, fill: TITLE}),
    Plot.text([c.titleL], {text: d => d, frameAnchor: "left", textAnchor: "middle", lineAnchor: "middle", dx: -45, dy: c.titleDy, rotate: -90, fontSize: c.titleSize, fill: TITLE}),
    Plot.text(["Partner Number (preceding 3 months)"], {text: d => d, frameAnchor: "right", textAnchor: "middle", lineAnchor: "middle", dx: 47, rotate: -90, fontSize: 15.5, fill: TITLE})
  ];
  if (c.seasons) marks.push(Plot.text(d3.range(seasonNames.length), {
    x: i => toDate((seasonStart[i] + seasonEnd[i]) / 2), text: i => seasonNames[i],
    frameAnchor: "top", lineAnchor: "middle", dy: 9, fontSize: 18.5, fill: "#111"
  }));
  if (c.xAxis) marks.push(Plot.axisX({
    ticks: monthTicks, tickFormat: d => d.getUTCFullYear() > 2013 ? "" : monthLabels[d.getUTCMonth()],
    tickSize: 5, tickPadding: 5, stroke: GRID, fill: TXT, fontSize: 13, label: null
  }));
  const svg = Plot.plot({
    width: W, height: c.height, marginLeft: ML, marginRight: MR, marginTop: c.mt, marginBottom: c.mb,
    x: {type: "utc", domain: xDomain, ...(c.xAxis ? {} : {axis: null})},
    y: {domain: [lo, hi]},
    style: svgStyle,
    marks
  });
  svg.style.top = c.top + "px";
  chart.appendChild(svg);
}

panel({top: 0, height: 360, mt: 15, mb: 12, left: [1.7, 3.1], right: [4.3, 4.9], ticksL: msmTicksL, ticksR: msmTicksR, digitsL: 1,
  diag: msmGono, part: msmPartners, group: "MSM", groupDy: -9, titleL: "Urethral Gonorrhoea Diagnoses (% of consultations)", titleDy: 8, titleSize: 14, seasons: true});
panel({top: 364, height: 360, mt: 16, mb: 11, left: [8.7, 11.5], right: [2.07, 2.29], ticksL: mswTicksL, ticksR: mswTicksR, digitsL: 1,
  diag: mswNgu, part: mswPartners, group: "MSW", groupDy: -14, titleL: "NGU Diagnoses  (% of consultations)", titleDy: 0, titleSize: 15.5});
panel({top: 740, height: 383, mt: 21, mb: 29, left: [1.75, 3.35], right: [1.58, 1.73], ticksL: womTicksL, ticksR: womTicksR, digitsL: 2,
  diag: womenPid, part: womenPartners, group: "Women", groupDy: -2, titleL: "PID Diagnoses  (% of consultations)", titleDy: 0, titleSize: 15.5, xAxis: true});

function legend(x, y, color, dashed, label) {
  const d = document.createElement("div");
  d.className = "lg";
  d.style.left = x + "px";
  d.style.top = (y - 10) + "px";
  d.style.height = "20px";
  d.innerHTML = `<svg width="34" height="6"><line x1="1" y1="3" x2="33" y2="3" stroke="${color}" stroke-width="2.6" ${dashed ? 'stroke-dasharray="8,4"' : ''}/></svg><span>${label}</span>`;
  chart.appendChild(d);
}
legend(633, 72, BLUE, true, "MSM - Urethral gonorrhoea");
legend(633, 100, RED, false, "MSM - Partners");
legend(637, 437, BLUE, true, "MSW - NGU");
legend(637, 466, RED, false, "MSW - Partners");
legend(633, 853, BLUE, true, "Women - PID");
legend(633, 875, RED, false, "Women - Partners");
</script></body></html>
